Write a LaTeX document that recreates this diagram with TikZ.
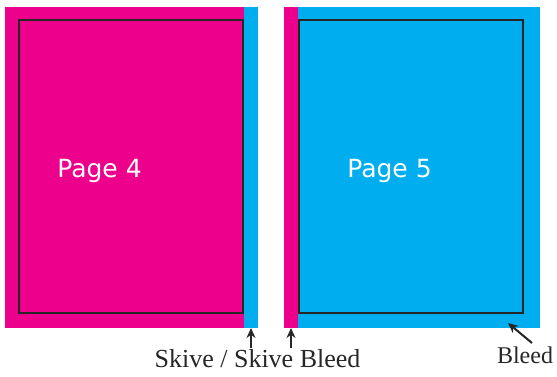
\documentclass[tikz,border=0pt]{standalone}
\usepackage{fontspec}
\setmainfont{Liberation Serif}
\newfontfamily\pagefont{DejaVu Sans}
\usetikzlibrary{arrows.meta}
\definecolor{pinkc}{HTML}{EC008C}
\definecolor{bluec}{HTML}{00AEEF}
\tikzset{
  sheet/.style={inner sep=0pt, outer sep=0pt, anchor=north west, draw=none},
  trim/.style={draw=black!85, line width=2.6pt, fill=none, inner sep=0pt, outer sep=0pt, anchor=north west},
  pagelabel/.style={text=white, font=\pagefont\fontsize{25}{30}\selectfont, inner sep=0pt, anchor=base},
  caption/.style={text=black!85, font=\fontsize{26}{30}\selectfont, inner sep=0pt, anchor=base},
  pointer/.style={-{Stealth[length=10pt,width=9pt]}, line width=2pt, black!85}
}
\begin{document}
\begin{tikzpicture}[x=1pt,y=-1pt]
\useasboundingbox (0,0) rectangle (557,376);
% left page
\node[sheet, fill=pinkc, minimum width=239pt, minimum height=321pt] (p4) at (5,7) {};
\node[sheet, fill=bluec, minimum width=14pt, minimum height=321pt] (s4) at (244,7) {};
\node[trim, minimum width=224pt, minimum height=293pt] (t4) at (19,20) {};
% right page
\node[sheet, fill=pinkc, minimum width=14pt, minimum height=321pt] (s5) at (284,7) {};
\node[sheet, fill=bluec, minimum width=242pt, minimum height=321pt] (p5) at (298,7) {};
\node[trim, minimum width=224pt, minimum height=293pt] (t5) at (299,20) {};
% labels
\node[pagelabel] (l4) at (99.5,177) {Page 4};
\node[pagelabel] (l5) at (389.5,177) {Page 5};
\node[caption] (cap) at (257.5,367) {Skive / Skive Bleed};
\node[caption, font=\fontsize{24}{28}\selectfont] (bl) at (525,363) {Bleed};
% arrows
\coordinate (a4) at (251,348);
\coordinate (a5) at (291,348);
\coordinate (ab) at (532,343);
\coordinate (tb) at (508,323);
\draw[pointer] (a4) -- (s4.south);
\draw[pointer] (a5) -- (s5.south);
\draw[pointer] (ab) -- (tb);
\end{tikzpicture}
\end{document}
